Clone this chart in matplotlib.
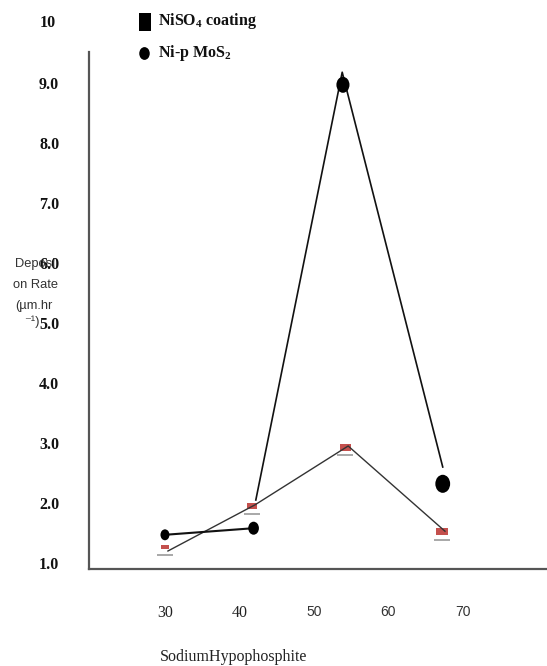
import matplotlib
matplotlib.use("Agg")
import matplotlib.pyplot as plt
from matplotlib.path import Path
from matplotlib.transforms import Affine2D, offset_copy

plt.rcParams["mathtext.fontset"] = "custom"
plt.rcParams["mathtext.rm"] = "Liberation Serif:bold"
plt.rcParams["mathtext.default"] = "rm"

# data
hypo_niso4 = [30.0, 41.7, 54.2, 67.2]
rate_niso4 = [1.27, 1.95, 2.93, 1.52]
hypo_mos2 = [30.0, 41.9, 53.9, 67.3]
rate_mos2 = [1.47, 1.58, 8.97, 2.32]

# connecting lines (drawn loosely in the original)
line_x_niso4 = [30.4, 42.1, 54.6, 67.6]
line_y_niso4 = [1.20, 1.97, 2.95, 1.53]
line_x_mos2 = [42.2, 53.8, 67.3]
line_y_mos2 = [2.05, 9.18, 2.60]

y_ticks = [1, 2, 3, 4, 5, 6, 7, 8, 9]
x_ticks = [30, 40, 50, 60, 70]

# marker styling
mos2_sizes = [62, 88, 132, 169]
niso4_sizes = [28, 55, 64, 78]
red = "#c4504d"

oval = Path.unit_circle().transformed(Affine2D().scale(0.82, 1.0))
rect = Path([(-0.5, -0.3), (0.5, -0.3), (0.5, 0.3), (-0.5, 0.3), (-0.5, -0.3)], closed=True)
tall_rect = Path([(-0.35, -0.5), (0.35, -0.5), (0.35, 0.5), (-0.35, 0.5), (-0.35, -0.5)], closed=True)

fig = plt.figure(figsize=(5.47, 6.66), dpi=100)
ax = fig.add_axes([89 / 547, 97 / 666, 458 / 547, 517 / 666])
ax.set_xlim(19.8, 81.3)
ax.set_ylim(0.9, 9.517)

for s in ("top", "right"):
    ax.spines[s].set_visible(False)
for s in ("left", "bottom"):
    ax.spines[s].set_color("#555555")
    ax.spines[s].set_linewidth(1.6)

# NiSO4 markers: red block with a grey underline
under = offset_copy(ax.transData, fig=fig, x=0, y=-5.6, units="points")
ax.scatter(hypo_niso4, rate_niso4, s=140, marker="_", color="#a8a8a8",
           linewidths=1.4, transform=under, zorder=2)
ax.scatter(hypo_niso4, rate_niso4, s=niso4_sizes, marker=rect, color=red,
           linewidths=0, zorder=2)
ax.plot(line_x_niso4, line_y_niso4, color="#333333", lw=1.0, zorder=3)

# Ni-p MoS2
ax.plot(hypo_mos2[:2], rate_mos2[:2], color="#111111", lw=1.5, zorder=3)
ax.plot(line_x_mos2, line_y_mos2, color="#111111", lw=1.2, zorder=3)
ax.scatter(hypo_mos2, rate_mos2, s=mos2_sizes, marker=oval, color="black",
           linewidths=0, zorder=4)

# y ticks
ax.set_yticks(y_ticks)
ax.set_yticklabels([f"{v:.1f}" for v in y_ticks], family="Liberation Serif",
                   fontweight="bold", fontsize=11.5, color="#111111")
ax.tick_params(axis="y", length=0, pad=21.5)
ax.annotate("10", xy=(0, 10), xycoords=("axes fraction", "data"),
            xytext=(-33, 0), textcoords="offset pixels", ha="right", va="center",
            family="Liberation Serif", fontweight="bold", fontsize=11.5,
            color="#111111", annotation_clip=False)

# x ticks
ax.set_xticks(x_ticks)
ax.set_xticklabels([str(v) for v in x_ticks], family="Liberation Serif",
                   fontsize=11.5, color="#222222")
for lab in ax.get_xticklabels()[2:]:
    lab.set_fontfamily("Liberation Sans")
    lab.set_fontsize(10)
    lab.set_color("#333333")
ax.tick_params(axis="x", length=0, pad=26)

# axis titles
fig.text(234 / 547, 1 - 657 / 666, "SodiumHypophosphite", ha="center", va="center",
         family="Liberation Serif", fontsize=11.5, color="#222222")
ylab = dict(ha="center", va="center", family=["Liberation Sans", "DejaVu Sans"],
            fontsize=9.3, color="#333333")
fig.text(35.5 / 547, 1 - 264 / 666, "Deposi", **ylab)
fig.text(35.5 / 547, 1 - 285 / 666, "on Rate", **ylab)
fig.text(34 / 547, 1 - 306 / 666, "(µm.hr", **ylab)
fig.text(32 / 547, 1 - 322 / 666, "⁻¹)", **ylab)

# legend drawn by hand
ax.scatter([144.5 / 547], [1 - 21.5 / 666], s=170, marker=tall_rect, color="black",
           linewidths=0, transform=fig.transFigure, clip_on=False)
ax.scatter([144 / 547], [1 - 53 / 666], s=85, marker=oval, color="black",
           linewidths=0, transform=fig.transFigure, clip_on=False)
leg = dict(ha="left", va="center", family="Liberation Serif", fontweight="bold",
           fontsize=11.5, color="#111111")
fig.text(158 / 547, 1 - 21 / 666, "NiSO$_4$ coating", **leg)
fig.text(158 / 547, 1 - 53 / 666, "Ni-p MoS$_2$", **leg)

fig.savefig("out.png", dpi=100, facecolor="white")
